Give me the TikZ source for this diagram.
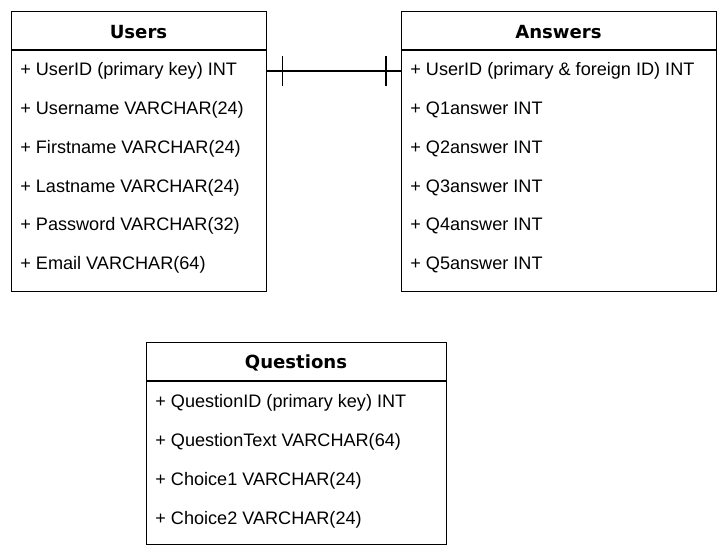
\documentclass[tikz,border=0pt]{standalone}
\usepackage{fontspec}
\setmainfont{Liberation Sans}
\newfontfamily\headfont{DejaVu Sans}
\usetikzlibrary{calc,positioning}

\begin{document}
\begin{tikzpicture}[x=0.02cm,y=-0.02cm,
    tablebox/.style={draw, line width=0.8pt, inner sep=0pt, anchor=north west},
    headtext/.style={font=\headfont\bfseries\fontsize{10.3}{12}\selectfont},
    fieldtext/.style={anchor=west, inner sep=0pt, font=\fontsize{10.3}{13}\selectfont}]
        \useasboundingbox (0,0) rectangle (727,556);

        % tables
        \node[tablebox, minimum width=5.1cm, minimum height=5.6cm] (users) at (11,11) {};
        \node[tablebox, minimum width=6.3cm, minimum height=5.6cm] (answers) at (401,11) {};
        \node[tablebox, minimum width=6cm, minimum height=4.04cm] (questions) at (146,342) {};

        % headers
        \node[headtext] (usershead) at (138.5,32) {Users};
        \node[headtext] (answershead) at (558.5,32) {Answers};
        \node[headtext] (questionshead) at (296,363) {Questions};
        \draw[line width=0.8pt] (users.west |- 0,50) -- (users.east |- 0,50);
        \draw[line width=0.8pt] (answers.west |- 0,50) -- (answers.east |- 0,50);
        \draw[line width=0.8pt] (questions.west |- 0,381) -- (questions.east |- 0,381);

        % fields
        \foreach \txt [count=\i] in {{+ UserID (primary key) INT}, {+ Username VARCHAR(24)},
            {+ Firstname VARCHAR(24)}, {+ Lastname VARCHAR(24)}, {+ Password VARCHAR(32)},
            {+ Email VARCHAR(64)}}
            \node[fieldtext] (u\i) at (20, {71+38.8*(\i-1)}) {\txt};
        \foreach \txt [count=\i] in {{+ UserID (primary \& foreign ID) INT}, {+ Q1answer INT},
            {+ Q2answer INT}, {+ Q3answer INT}, {+ Q4answer INT}, {+ Q5answer INT}}
            \node[fieldtext] (a\i) at (410, {71+38.8*(\i-1)}) {\txt};
        \foreach \txt [count=\i] in {{+ QuestionID (primary key) INT}, {+ QuestionText VARCHAR(64)},
            {+ Choice1 VARCHAR(24)}, {+ Choice2 VARCHAR(24)}}
            \node[fieldtext] (q\i) at (155, {402.5+39*(\i-1)}) {\txt};

        % one-to-one link
        \coordinate (linkl) at (users.east |- 0,71);
        \coordinate (linkr) at (answers.west |- 0,71);
        \draw[line width=0.8pt] (linkl) -- (linkr);
        \draw[line width=0.8pt] ($(linkl)+(15,-15)$) -- ++(0,30);
        \draw[line width=0.8pt] ($(linkr)+(-15,-15)$) -- ++(0,30);
\end{tikzpicture}
\end{document}
